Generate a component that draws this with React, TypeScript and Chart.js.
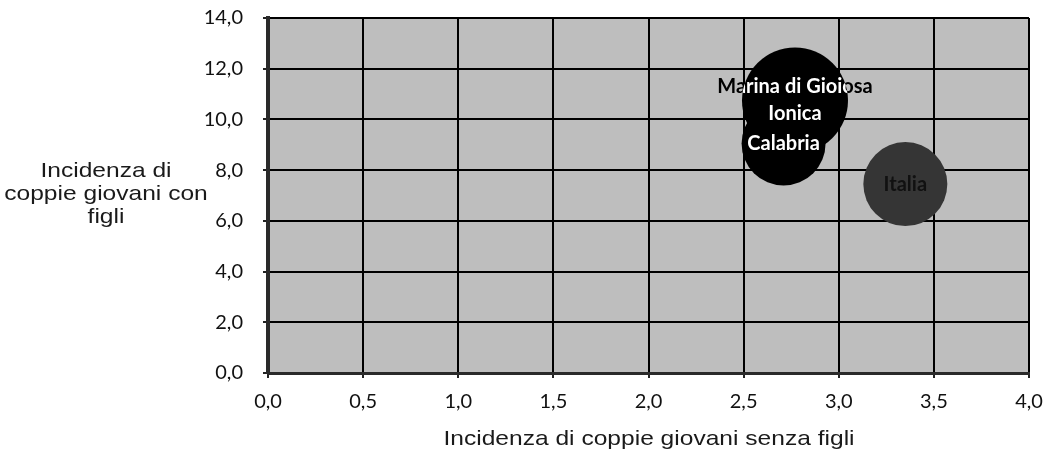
import React, { useEffect, useRef } from "react";
import { Chart, registerables } from "chart.js";

Chart.register(...registerables);

const seriesNames = ["Marina di Gioiosa Ionica", "Calabria", "Italia"];
const labelLines = [["Marina di Gioiosa", "Ionica"], ["Calabria"], ["Italia"]];
const xValues = [2.77, 2.71, 3.35];
const yValues = [10.75, 9.05, 7.45];
const bubbleSizes = [53, 42, 42];
const bubbleColors = ["#000000", "#000000", "#353535"];
const xTitle = "Incidenza di coppie giovani senza figli";
const yTitleLines = ["Incidenza di", "coppie giovani con", "figli"];

const fmt = (v: number) => v.toFixed(1).replace(".", ",");

const bgPlugin = {
  id: "plotBg",
  beforeDraw(chart: any) {
    const { ctx, chartArea: a } = chart;
    ctx.save();
    ctx.fillStyle = "#bebebe";
    ctx.fillRect(a.left, a.top, a.right - a.left, a.bottom - a.top);
    ctx.restore();
  },
};

const titlesPlugin = {
  id: "titles",
  afterDraw(chart: any) {
    const { ctx } = chart;
    ctx.save();
    ctx.fillStyle = "#1a1a1a";
    ctx.font = "21px 'Liberation Sans', Arial, sans-serif";
    ctx.textAlign = "center";
    ctx.textBaseline = "middle";
    const sx = 1.17;
    const drawScaled = (t: string, cx: number, cy: number) => {
      ctx.save();
      ctx.translate(cx, cy);
      ctx.scale(sx, 1);
      ctx.fillText(t, 0, 0);
      ctx.restore();
    };
    yTitleLines.forEach((t, i) => drawScaled(t, 106, 171 + i * 23));
    drawScaled(xTitle, 649, 439);
    ctx.restore();
  },
};

const labelsPlugin = {
  id: "bubbleLabels",
  afterDatasetsDraw(chart: any) {
    const { ctx } = chart;
    const meta = chart.getDatasetMeta(0);
    const lh = 27;
    ctx.save();
    ctx.font = "bold 20px Lato, 'Open Sans', sans-serif";
    ctx.textAlign = "center";
    ctx.textBaseline = "middle";
    const drawAll = (idxs: number[], color: string) => {
      ctx.fillStyle = color;
      idxs.forEach((i) => {
        const el = meta.data[i];
        const lines = labelLines[i];
        const y0 = el.y - ((lines.length - 1) * lh) / 2;
        lines.forEach((l, k) => ctx.fillText(l, el.x, y0 + k * lh));
      });
    };
    drawAll([0, 1], "#000000");
    ctx.save();
    ctx.beginPath();
    [0, 1].forEach((i) => {
      const el = meta.data[i];
      const r = el.options.radius;
      ctx.moveTo(el.x + r, el.y);
      ctx.arc(el.x, el.y, r, 0, Math.PI * 2);
    });
    ctx.clip();
    drawAll([0, 1], "#ffffff");
    ctx.restore();
    drawAll([2], "#111111");
    ctx.restore();
  },
};

export default function App() {
  const ref = useRef<HTMLCanvasElement>(null);
  useEffect(() => {
    if (!ref.current) return;
    const data = xValues.map((x, i) => ({ x, y: yValues[i], r: bubbleSizes[i] }));
    const chart = new Chart(ref.current, {
      type: "bubble",
      data: {
        labels: seriesNames,
        datasets: [
          {
            label: "Incidenza",
            data,
            backgroundColor: bubbleColors,
            borderWidth: 0,
          },
        ],
      },
      options: {
        responsive: false,
        animation: false,
        layout: { autoPadding: false, padding: { top: 18, right: 18, left: 0, bottom: 0 } },
        plugins: { legend: { display: false }, tooltip: { enabled: false } },
        scales: {
          x: {
            type: "linear",
            min: 0,
            max: 4,
            ticks: {
              stepSize: 0.5,
              callback: (v: any) => fmt(Number(v)),
              font: { family: "Lato", size: 20 },
              color: "#111",
              padding: 12,
            },
            grid: { color: "#000", lineWidth: 2, tickLength: 5, tickColor: "#222" },
            border: { display: true, color: "#2a2a2a", width: 3 },
            afterFit: (s: any) => {
              s.height = 80;
              s.paddingLeft = 0;
              s.paddingRight = 0;
            },
          },
          y: {
            type: "linear",
            min: 0,
            max: 14,
            ticks: {
              stepSize: 2,
              callback: (v: any) => fmt(Number(v)),
              font: { family: "Lato", size: 20 },
              color: "#111",
              padding: 20,
            },
            grid: { color: "#000", lineWidth: 2, tickLength: 5, tickColor: "#222" },
            border: { display: true, color: "#2a2a2a", width: 4 },
            afterFit: (s: any) => {
              s.width = 268;
              s.paddingTop = 0;
              s.paddingBottom = 0;
            },
          },
        },
      },
      plugins: [bgPlugin, labelsPlugin, titlesPlugin],
    });
    return () => chart.destroy();
  }, []);
  return (
    <div style={{ position: "absolute", left: 0, top: 0, width: 1047, height: 453, background: "#fff" }}>
      <canvas ref={ref} width={1047} height={453} />
    </div>
  );
}
